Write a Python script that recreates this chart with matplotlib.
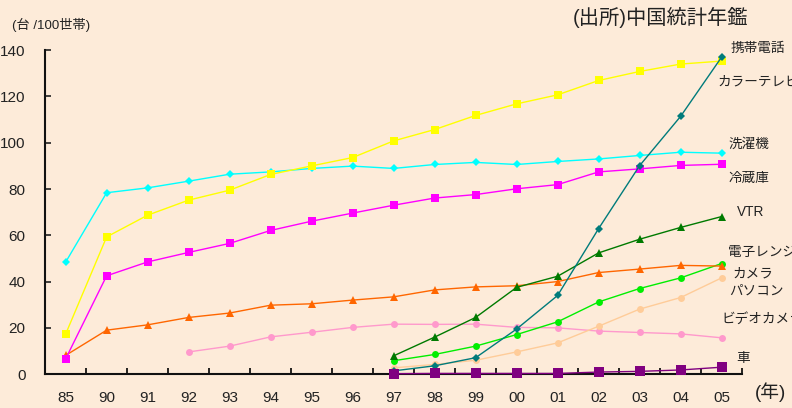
import numpy as np
import matplotlib
matplotlib.use('Agg')
import matplotlib.pyplot as plt

plt.rcParams['font.family'] = ['Liberation Sans', 'Noto Sans CJK JP', 'DejaVu Sans']

nan = np.nan

# Years on the category axis
years = ['85', '90', '91', '92', '93', '94', '95', '96', '97',
         '98', '99', '00', '01', '02', '03', '04', '05']

# Ownership per 100 households
color_tv = [17.3, 59.3, 68.7, 75.2, 79.5, 86.3, 90.0, 93.6, 100.8,
            105.7, 111.8, 116.8, 120.7, 126.9, 130.8, 134.0, 135.3]
washer = [48.4, 78.4, 80.5, 83.4, 86.4, 87.4, 88.9, 89.9, 88.9,
          90.6, 91.5, 90.6, 91.9, 93.0, 94.5, 95.9, 95.5]
fridge = [6.6, 42.5, 48.5, 52.6, 56.5, 62.1, 66.1, 69.6, 73.0,
          76.1, 77.6, 80.1, 81.9, 87.4, 88.7, 90.2, 90.7]
mobile = [nan, nan, nan, nan, nan, nan, nan, nan, 1.4,
          3.6, 7.1, 19.5, 34.0, 62.9, 90.1, 111.4, 137.0]
vtr = [nan, nan, nan, nan, nan, nan, nan, nan, 7.9,
       16.0, 24.5, 37.5, 42.3, 52.4, 58.3, 63.4, 68.1]
microwave = [8.1, 19.0, 21.3, 24.5, 26.4, 29.8, 30.4, 32.0, 33.4,
             36.4, 37.7, 38.2, 40.0, 43.9, 45.4, 47.0, 46.7]
camera = [nan, nan, nan, nan, nan, nan, nan, nan, 5.8,
          8.5, 12.1, 17.1, 22.6, 31.2, 37.0, 41.6, 47.8]
pc = [nan, nan, nan, nan, nan, nan, nan, nan, 2.7,
      4.2, 6.0, 9.6, 13.5, 20.7, 28.1, 33.1, 41.6]
video_camera = [nan, nan, nan, 9.6, 12.1, 16.1, 18.1, 20.2, 21.6,
                21.5, 21.6, 20.2, 20.0, 18.6, 18.0, 17.4, 15.7]
car = [nan, nan, nan, nan, nan, nan, nan, nan, 0.2,
       0.3, 0.3, 0.3, 0.3, 0.9, 1.2, 1.8, 3.0]

bg = '#FDEBD9'
fig = plt.figure(figsize=(7.92, 4.08), dpi=100, facecolor=bg)
ax = fig.add_axes([0.057, 0.083, 0.880, 0.794], facecolor=bg)

x = np.arange(len(years))

series = [
    (video_camera, '#FF99CC', 'o', 5),
    (pc, '#FFCC99', 'o', 5),
    (camera, '#00EE00', 'o', 5),
    (microwave, '#FF6600', '^', 6),
    (vtr, '#007A00', '^', 6),
    (fridge, '#FF00FF', 's', 5.3),
    (washer, '#00FFFF', 'D', 4.5),
    (color_tv, '#FFFF00', 's', 5.3),
    (mobile, '#007B7B', 'D', 4.5),
]
for vals, col, mk, ms in series:
    ax.plot(x, vals, color=col, marker=mk, markersize=ms, lw=1.0,
            markeredgewidth=0, clip_on=False, zorder=3)

ax.plot(x, car, color='#800080', marker='s', markersize=7.5, lw=1.0,
        markeredgewidth=0, clip_on=False, zorder=5)

# Labels at the right end of each line
labels = [
    ('携帯電話', 16.23, 140.9),
    ('カラーテレビ', 15.91, 126.6),
    ('洗濯機', 16.16, 99.4),
    ('冷蔵庫', 16.16, 84.6),
    ('VTR', 16.38, 70.1),
    ('電子レンジ', 16.16, 52.9),
    ('カメラ', 16.26, 43.5),
    ('パソコン', 16.18, 36.0),
    ('ビデオカメラ', 15.99, 23.8),
    ('車', 16.36, 7.1),
]
for txt, lx, ly in labels:
    ax.text(lx, ly, txt, fontsize=9.8, color='#222222', va='center', ha='left',
            clip_on=False)

ax.set_xlim(-0.5, 16.5)
ax.set_ylim(0, 140)
ax.set_yticks(range(0, 141, 20))
ax.tick_params(axis='y', direction='in', length=4, width=1.2,
               labelsize=11, pad=14, colors='#222222')

# Boundary ticks between years, labels at the centres
ax.set_xticks(np.arange(-0.5, 16.6, 1.0))
ax.set_xticklabels([])
ax.set_xticks(x, minor=True)
ax.set_xticklabels(years, minor=True)
ax.tick_params(axis='x', which='major', direction='in', length=4, width=1.2)
ax.tick_params(axis='x', which='minor', length=0, labelsize=11, pad=12,
               colors='#222222')

for side in ('top', 'right'):
    ax.spines[side].set_visible(False)
for side in ('left', 'bottom'):
    ax.spines[side].set_linewidth(1.5)
    ax.spines[side].set_color('#111111')

fig.text(0.015, 0.938, '(台 /100世帯)', fontsize=9.5, color='#222222',
         va='center', ha='left')
fig.text(0.945, 0.958, '(出所)中国統計年鑑', fontsize=14.6, color='#222222',
         va='center', ha='right')
fig.text(0.953, 0.039, '(年)', fontsize=13.5, color='#222222',
         va='center', ha='left')

fig.savefig('out.png', dpi=100, facecolor=bg)
